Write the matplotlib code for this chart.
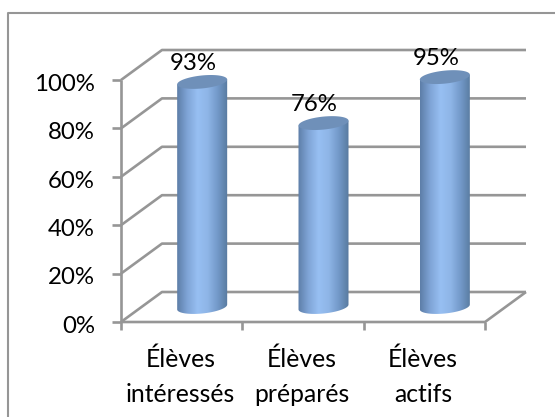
import numpy as np
import matplotlib
matplotlib.use('Agg')
import matplotlib.pyplot as plt
from matplotlib.colors import LinearSegmentedColormap
from matplotlib.lines import Line2D
from matplotlib.patches import Polygon

plt.rcParams['font.family'] = ['Lato', 'DejaVu Sans']

categories = ['Élèves\nintéressés', 'Élèves\npréparés', 'Élèves\nactifs']
values = [93, 76, 95]
value_labels = ['93%', '76%', '95%']
ticks = [0, 20, 40, 60, 80, 100]
tick_labels = ['0%', '20%', '40%', '60%', '80%', '100%']

W, H = 555, 417
GREY = '#969696'
FS = 17.3
# pseudo 3d: depth shift of the back wall, in data units
DX = 41 / 121.33
DY = 30 / 2.42
BAR_HW = 25 / 121.33
ELL_H = 6.5 / 2.42

fig = plt.figure(figsize=(W / 100, H / 100), dpi=100)
# axes covers the front plane of the box: x 121-485, y 80-322 px
ax = fig.add_axes([121 / W, 1 - 322 / H, 364 / W, 242 / H])
ax.set_xlim(0, 3)
ax.set_ylim(0, 100)
ax.axis('off')

# outer chart frame: only the left and top edges show
fig.add_artist(Line2D([8 / W, 8 / W, 1], [0, 1 - 13 / H, 1 - 13 / H], transform=fig.transFigure,
                      color=GREY, lw=1.5))


def line(xs, ys, z=1):
    ax.plot(xs, ys, color=GREY, lw=1.9, clip_on=False, zorder=z, solid_capstyle='butt')


# walls and floor
for t in ticks:
    line([0, DX, 3 + DX], [t, t + DY, t + DY])
    line([-0.074, 0], [t, t])
line([0, 0], [0, 100])
line([0, 3, 3 + DX], [0, 0, DY])
for i in range(4):
    line([i, i], [0, -3.3])

cmap = LinearSegmentedColormap.from_list('cyl', ['#5d7ea8', '#7fa4d6', '#97bff2', '#8fb6e8',
                                                 '#7399c9', '#587a9f'])
grad = np.linspace(0, 1, 128).reshape(1, -1)
t = np.linspace(0, 2 * np.pi, 80)

for i, v in enumerate(values):
    cx = i + 0.5 + DX / 2
    base = DY / 2
    # tilted ellipse outline, right side a bit higher than the left
    ex = BAR_HW * np.cos(t)
    ey = ELL_H * np.sin(t) + 1.0 * np.cos(t)
    low = t[(t >= np.pi) & (t <= 2 * np.pi)]
    lx = BAR_HW * np.cos(low)
    ly = ELL_H * np.sin(low) + 1.0 * np.cos(low)
    body = np.column_stack([
        np.concatenate([[cx - BAR_HW], cx + lx, [cx + BAR_HW]]),
        np.concatenate([[base + v - 1.0], base + ly, [base + v + 1.0]]),
    ])
    im = ax.imshow(grad, extent=[cx - BAR_HW, cx + BAR_HW, base - 10, base + v + 5], cmap=cmap,
                   aspect='auto', zorder=3)
    poly = Polygon(body, closed=True, transform=ax.transData, fc='none', ec='none')
    ax.add_patch(poly)
    im.set_clip_box(fig.bbox)
    im.set_clip_path(poly)
    ax.fill(cx + ex, base + v + ey, color='#6f90b9', lw=0, zorder=4, clip_on=False)
    ax.text(cx - 0.075, base + v + 5, value_labels[i], ha='center', va='baseline',
            fontsize=FS, color='black', zorder=5, clip_on=False)

ax.set_xlim(0, 3)
ax.set_ylim(0, 100)

for t_val, lab in zip(ticks, tick_labels):
    ax.text(-0.214, t_val - 1.8, lab, ha='right', va='center', fontsize=FS, color='black',
            clip_on=False)

for i, c in enumerate(categories):
    ax.text(i + 0.49, -10.5, c, ha='center', va='top', fontsize=17.8, color='black',
            linespacing=1.62, clip_on=False)

fig.savefig('out.png', dpi=100)
